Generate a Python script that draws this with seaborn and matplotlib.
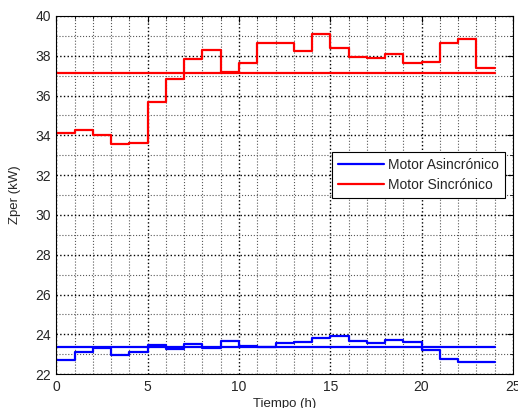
import numpy as np
import pandas as pd
import matplotlib
matplotlib.use("Agg")
import matplotlib.pyplot as plt
import matplotlib.ticker as ticker
import seaborn as sns

# hourly values (value held from hour h to h+1)
hours = list(range(25))
asincronico = [22.70, 23.12, 23.32, 22.98, 23.12, 23.44, 23.24, 23.49, 23.32, 23.66,
               23.41, 23.36, 23.54, 23.61, 23.83, 23.90, 23.66, 23.56, 23.71, 23.60,
               23.19, 22.74, 22.61, 22.61]
sincronico = [34.13, 34.25, 34.01, 33.56, 33.63, 35.66, 36.84, 37.82, 38.29, 37.18,
              37.61, 38.65, 38.65, 38.23, 39.09, 38.40, 37.92, 37.87, 38.08, 37.61,
              37.68, 38.65, 38.82, 37.38]
nivel_asin = 23.34
nivel_sin = 37.11
labels = ["Motor Asincrónico", "Motor Sincrónico"]

df = pd.DataFrame({
    "t": hours,
    "asin": asincronico + asincronico[-1:],
    "sin": sincronico + sincronico[-1:],
})
ref = pd.DataFrame({"t": [0, 24], "asin": [nivel_asin] * 2, "sin": [nivel_sin] * 2})

sns.set_style("white")
plt.rcParams["font.family"] = ["Liberation Sans", "DejaVu Sans"]
plt.rcParams["font.size"] = 10

fig = plt.figure(figsize=(5.18, 4.08), dpi=100)
ax = fig.add_axes([0.109, 0.083, 0.881, 0.878])

sns.lineplot(data=df, x="t", y="asin", ax=ax, color="blue", lw=1.6,
             drawstyle="steps-post", label=labels[0])
sns.lineplot(data=df, x="t", y="sin", ax=ax, color="red", lw=1.6,
             drawstyle="steps-post", label=labels[1])
sns.lineplot(data=ref, x="t", y="asin", ax=ax, color="blue", lw=1.6)
sns.lineplot(data=ref, x="t", y="sin", ax=ax, color="red", lw=1.6)

ax.set_xlim(0, 25)
ax.set_ylim(22, 40)
ax.xaxis.set_major_locator(ticker.MultipleLocator(5))
ax.xaxis.set_minor_locator(ticker.MultipleLocator(1))
ax.yaxis.set_major_locator(ticker.MultipleLocator(2))
ax.yaxis.set_minor_locator(ticker.MultipleLocator(1))
ax.grid(True, which="major", color="black", ls=":", lw=1.0)
ax.grid(True, which="minor", color="0.35", ls=":", lw=0.8)
ax.tick_params(which="both", direction="in", top=True, right=True, labelsize=10,
               color="black")
ax.tick_params(axis="x", which="major", pad=4)
ax.tick_params(axis="y", which="major", pad=4)
ax.tick_params(which="major", length=4)
ax.tick_params(which="minor", length=2)
for s in ax.spines.values():
    s.set_color("black")
    s.set_linewidth(0.8)

ax.set_xlabel("Tiempo (h)", fontsize=9.5, labelpad=3)
ax.set_ylabel("Zper (kW)", fontsize=9.5, labelpad=10)

h, l = ax.get_legend_handles_labels()
leg = ax.legend(h[:2], l[:2], loc="upper right", bbox_to_anchor=(0.9825, 0.619),
                fancybox=False, edgecolor="black", framealpha=1, fontsize=10,
                handlelength=3.3, handletextpad=0.35, borderpad=0.4,
                labelspacing=0.45, borderaxespad=0)
leg.get_frame().set_linewidth(0.8)

fig.savefig("out.png", dpi=100)
